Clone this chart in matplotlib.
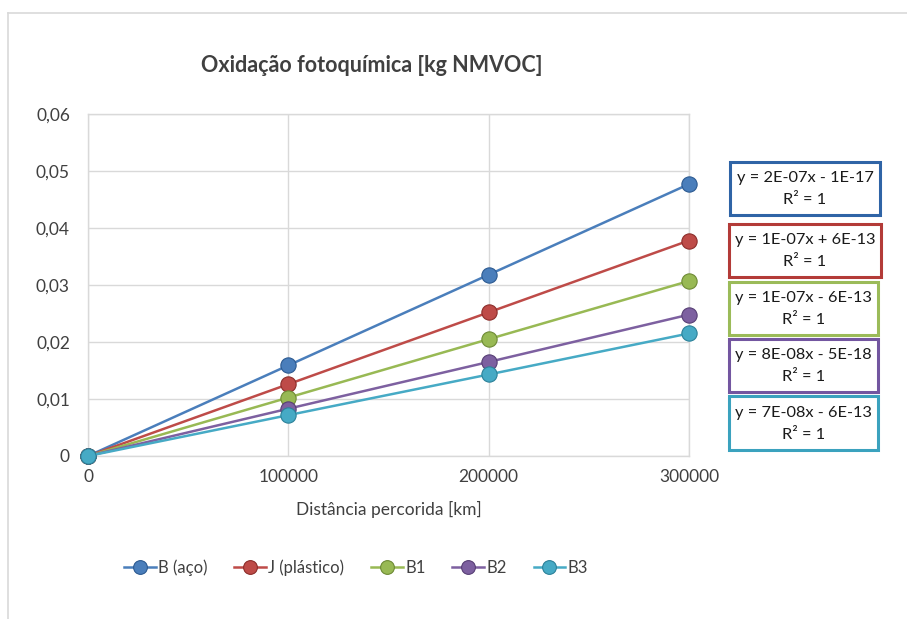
import matplotlib
matplotlib.use("Agg")
import matplotlib.pyplot as plt
from matplotlib.patches import Rectangle
from matplotlib.lines import Line2D
from matplotlib.ticker import FuncFormatter

plt.rcParams['font.family'] = ['Lato', 'DejaVu Sans']

# data
distance = [0, 100000, 200000, 300000]
series_names = ["B (aço)", "J (plástico)", "B1", "B2", "B3"]
b_aco = [0, 0.0159, 0.0318, 0.0477]
j_plastico = [0, 0.0126, 0.0252, 0.0378]
b1 = [0, 0.01025, 0.0205, 0.0307]
b2 = [0, 0.0083, 0.0165, 0.0248]
b3 = [0, 0.00717, 0.0143, 0.0215]
equations = [
    "y = 2E-07x - 1E-17",
    "y = 1E-07x + 6E-13",
    "y = 1E-07x - 6E-13",
    "y = 8E-08x - 5E-18",
    "y = 7E-08x - 6E-13",
]
r2_labels = ["R² = 1"] * 5

values = [b_aco, j_plastico, b1, b2, b3]
line_colors = ["#4A7EBB", "#BE4B48", "#98B954", "#7D60A0", "#46AAC5"]
edge_colors = ["#2C5A91", "#8C2D2A", "#6E8A35", "#573F75", "#2C8199"]
box_colors = ["#2F64A6", "#B33B38", "#9BBB59", "#7356A0", "#3BA2BE"]
grid_c = "#D9D9D9"
text_c = "#404040"

W, H = 907, 619
fig = plt.figure(figsize=(W / 100, H / 100), dpi=100)

# outer chart frame
fig.add_artist(Line2D([8 / W, 8 / W], [0, 1 - 13 / H], color=grid_c, lw=1.2))
fig.add_artist(Line2D([8 / W, 1], [1 - 13 / H, 1 - 13 / H], color=grid_c, lw=1.2))

L, R, T, B = 88, 689, 114, 456
ax = fig.add_axes([L / W, 1 - B / H, (R - L) / W, (B - T) / H])

handles = []
for name, vals, c, ec in zip(series_names, values, line_colors, edge_colors):
    h, = ax.plot(distance, vals, color=c, lw=1.8, marker="o", markersize=11,
                 markerfacecolor=c, markeredgecolor=ec, markeredgewidth=0.8,
                 label=name, zorder=3, clip_on=False)
    handles.append(h)

ax.set_xlim(0, 300000)
ax.set_ylim(0, 0.06)
ax.set_xticks(distance)
ax.set_yticks([0, 0.01, 0.02, 0.03, 0.04, 0.05, 0.06])
ax.yaxis.set_major_formatter(FuncFormatter(
    lambda v, p: "0" if v == 0 else ("%.2f" % v).replace(".", ",")))
ax.xaxis.set_major_formatter(FuncFormatter(lambda v, p: "%d" % v))
ax.grid(True, color=grid_c, lw=1)
ax.set_axisbelow(True)
for s in ax.spines.values():
    s.set_color(grid_c)
    s.set_linewidth(1)
ax.tick_params(length=0, labelsize=12.5, colors=text_c, pad=9)
ax.tick_params(axis="y", pad=13)

ax.set_xlabel("Distância percorida [km]", fontsize=12.5, color=text_c, labelpad=12)
fig.text(372 / W, 1 - 66 / H, "Oxidação fotoquímica [kg NMVOC]",
         ha="center", va="center", fontsize=15.5, fontweight="bold", color=text_c)

# trendline equation boxes
boxes = [(730, 162, 150, 53), (729, 224, 152, 53), (729, 282, 149, 53),
         (729, 339, 149, 53), (729, 396, 149, 54)]
for (x0, y0, bw, bh), eq, r2, bc in zip(boxes, equations, r2_labels, box_colors):
    fig.add_artist(Rectangle((x0 / W, 1 - (y0 + bh) / H), bw / W, bh / H,
                             transform=fig.transFigure, fill=False,
                             edgecolor=bc, lw=2.2))
    fig.text((x0 + bw / 2) / W, 1 - (y0 + bh * 0.31) / H, eq, ha="center",
             va="center", fontsize=11.8, color="#1A1A1A")
    fig.text((x0 + bw / 2) / W, 1 - (y0 + bh * 0.72) / H, r2, ha="center",
             va="center", fontsize=11.8, color="#1A1A1A")

fig.legend(handles=handles, loc="center", bbox_to_anchor=(356 / W, 1 - 568 / H),
           ncol=5, frameon=False, fontsize=12, handlelength=1.9,
           columnspacing=1.6, handletextpad=0.15, labelcolor=text_c,
           markerscale=0.9)

fig.savefig("out.png", dpi=100)
